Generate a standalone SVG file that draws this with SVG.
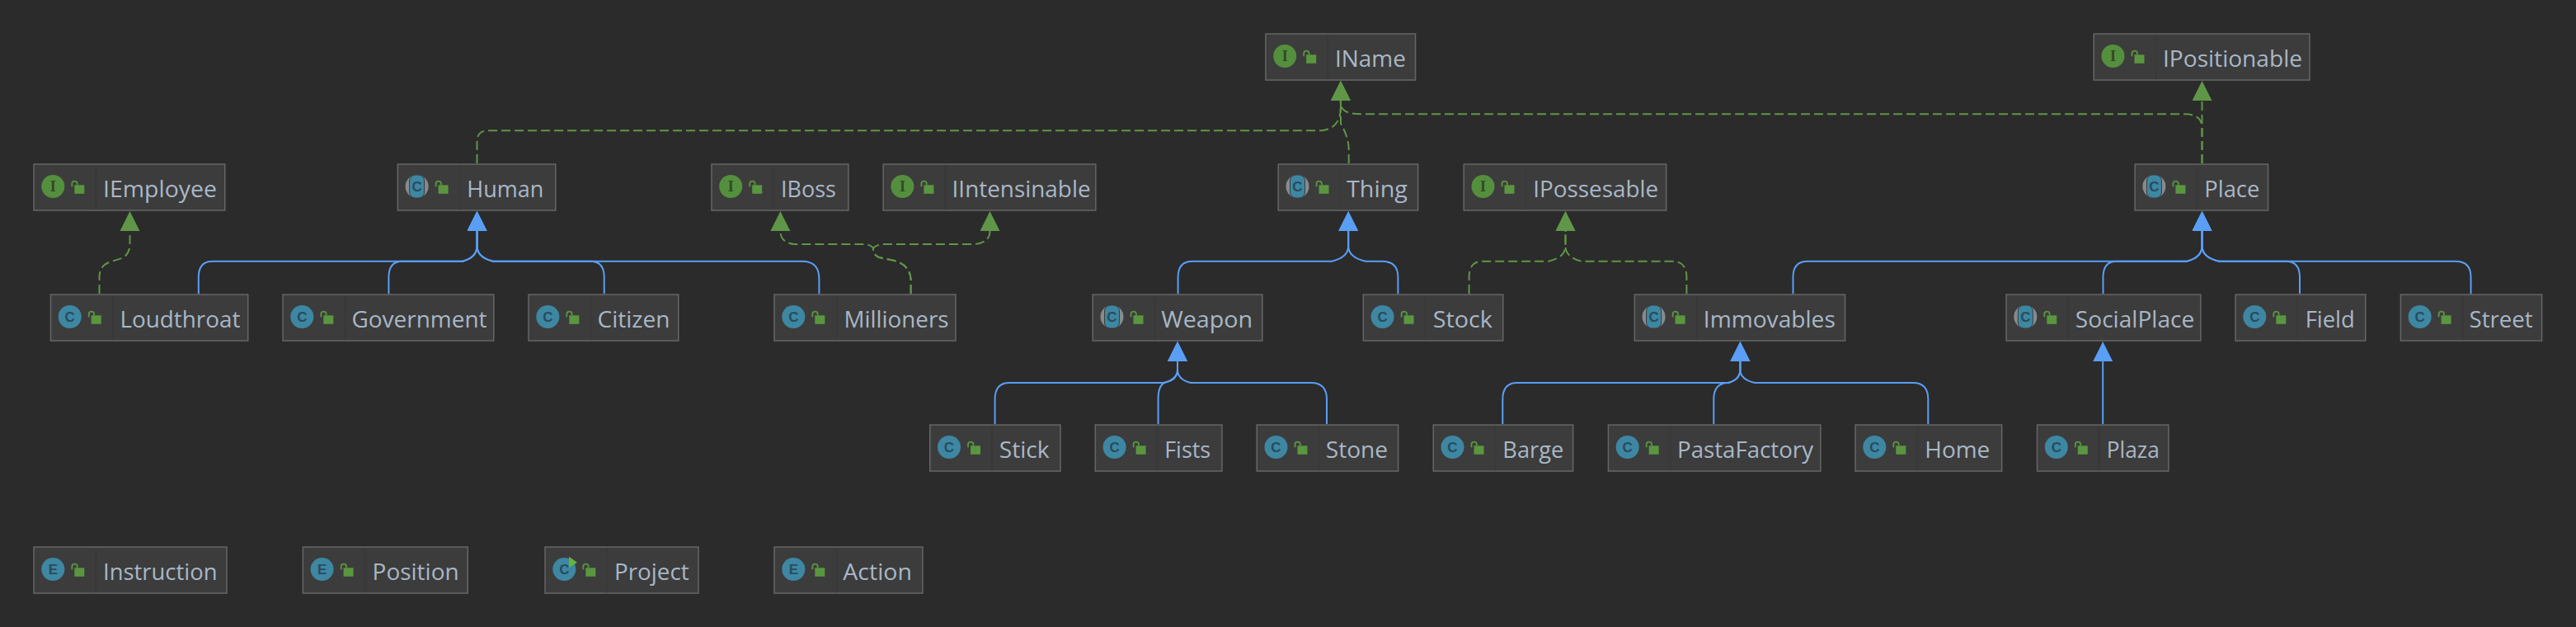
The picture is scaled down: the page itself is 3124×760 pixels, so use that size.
<svg xmlns="http://www.w3.org/2000/svg" xmlns:xlink="http://www.w3.org/1999/xlink" width="3124" height="760" viewBox="0 0 3124 760">
<style>
.box{fill:#3c3c3c;stroke:#666;stroke-width:1.5}
.div{stroke:#383838;stroke-width:1.5}
.lbl{font-family:"Open Sans","Noto Sans",sans-serif;font-size:28px;fill:#a9b7c6}
.ltr{font-family:"Liberation Sans",sans-serif;font-size:17px;font-weight:700;fill:#284b5c;text-anchor:middle}
.ltrI{font-family:"Liberation Serif",serif;font-size:18px;font-weight:700;fill:#2f4a26;text-anchor:middle}
.ext{fill:none;stroke:#5a9ef5;stroke-width:2;marker-end:url(#aE)}
.dep{fill:none;stroke:#5f9647;stroke-width:2;stroke-dasharray:11 5;marker-end:url(#aD)}
</style>
<defs>
<marker id="aE" markerUnits="userSpaceOnUse" markerWidth="26" markerHeight="26" refX="0" refY="12" orient="auto"><path d="M0 0L24 12L0 24Z" fill="#5a9ef5"/></marker>
<marker id="aD" markerUnits="userSpaceOnUse" markerWidth="26" markerHeight="26" refX="0" refY="12" orient="auto"><path d="M0 0L24 12L0 24Z" fill="#5f9647"/></marker>
<g id="lock"><path d="M47 28V24.5A3.2 3.2 0 0 1 53.4 24.5V26" fill="none" stroke="#5a963f" stroke-width="1.8"/><rect x="50" y="26" width="12" height="10.5" fill="#5a963f"/></g>
<g id="icI"><circle cx="24" cy="27.7" r="14" fill="#548f3e"/><text class="ltrI" x="24" y="33.7">I</text><use xlink:href="#lock"/></g>
<g id="icC"><circle cx="24" cy="27.7" r="14" fill="#3d87a3"/><text class="ltr" x="24" y="33.7">C</text><use xlink:href="#lock"/></g>
<g id="icE"><circle cx="24" cy="27.7" r="14" fill="#3d87a3"/><text class="ltr" x="24" y="33.7">E</text><use xlink:href="#lock"/></g>
<g id="icA"><circle cx="24" cy="27.7" r="14" fill="#878b8e"/><rect x="15" y="13.7" width="18" height="28" rx="7" fill="#3d87a3" stroke="#3c3c3c" stroke-width="1"/><text class="ltr" x="24" y="33.7">C</text><use xlink:href="#lock"/></g>
<g id="icR"><circle cx="24" cy="27.7" r="14" fill="#3d87a3"/><text class="ltr" x="24" y="33.7">C</text><path d="M29.7 12.5L39.7 19.5L29.7 26Z" fill="#62b53c"/><use xlink:href="#lock"/></g>
</defs>
<rect width="3124" height="760" fill="#2b2b2b"/>
<g id="connectors">
<path class="dep" d="M120.5 356V336Q120.5 321 135 317L148 313Q157.5 308 157.5 295V280"/>
<path class="ext" d="M240.8 356V336Q240.8 316.7 258 316.7H561Q578.5 312 578.5 298V280"/>
<path class="ext" d="M471.4 356V336Q471.4 316.7 488 316.7H561Q578.5 312 578.5 298V280"/>
<path class="ext" d="M732.7 356V336Q732.7 316.7 716 316.7H598Q578.5 312 578.5 298V280"/>
<path class="ext" d="M993.4 356V338Q993.4 316.7 973 316.7H598Q578.5 312 578.5 298V280"/>
<path class="dep" d="M578.5 198V172Q578.5 158.3 592 158.3H1603Q1625.7 155 1625.7 132V122"/>
<path class="dep" d="M1104.6 356V338Q1103 321 1085 316L1066 312Q1059 309 1059 302Q1059 298 1050 296H963Q946.4 294 946.4 280"/>
<path class="dep" d="M1104.6 356V338Q1103 321 1085 316L1066 312Q1059 309 1059 302Q1059 298 1070 296H1182Q1200.5 294 1200.5 280"/>
<path class="dep" d="M1635.7 198V180Q1635 165 1626 150V122"/>
<path class="dep" d="M2670.5 198V152Q2668 138.3 2650 138.3H1650Q1626 138.3 1626 125V122"/>
<path class="dep" d="M2670.5 198V122"/>
<path class="ext" d="M1428.6 356V336Q1428.6 316.7 1446 316.7H1615Q1635.2 312 1635.2 298V280"/>
<path class="ext" d="M1695.4 356V336Q1695.4 316.7 1676 316.7H1656Q1635.2 312 1635.2 298V280"/>
<path class="dep" d="M1781.6 356V336Q1781.6 316.7 1798 316.7H1878Q1898.5 312 1898.5 298V280"/>
<path class="dep" d="M2045.4 356V336Q2045.4 316.7 2028 316.7H1918Q1898.5 312 1898.5 298V280"/>
<path class="ext" d="M2174.5 356V336Q2174.5 316.7 2192 316.7H2652Q2670.5 312 2670.5 298V280"/>
<path class="ext" d="M2550.5 356V336Q2550.5 316.7 2567 316.7H2652Q2670.5 312 2670.5 298V280"/>
<path class="ext" d="M2789 356V336Q2789 316.7 2772 316.7H2691Q2670.5 312 2670.5 298V280"/>
<path class="ext" d="M2996.5 356V336Q2996.5 316.7 2978 316.7H2691Q2670.5 312 2670.5 298V280"/>
<path class="ext" d="M1206.6 514V484Q1206.6 464 1224 464H1411Q1428 460 1428 448V438"/>
<path class="ext" d="M1404.6 514V482Q1405 465 1415 463Q1428 460 1428 448V438"/>
<path class="ext" d="M1609 514V484Q1609 464 1590 464H1444Q1428 460 1428 448V438"/>
<path class="ext" d="M1822.3 514V484Q1822.3 464 1840 464H2096Q2110.4 460 2110.4 448V438"/>
<path class="ext" d="M2078.3 514V484Q2078.3 464 2096 464Q2110.4 460 2110.4 448V438"/>
<path class="ext" d="M2338.3 514V484Q2338.3 464 2320 464H2128Q2110.4 460 2110.4 448V438"/>
<path class="ext" d="M2550.2 514V438"/>
</g>
<g id="IName" transform="translate(1534.2 40.3)"><rect class="box" x=".75" y=".75" width="181.6" height="56"/><path class="div" d="M76 2V56"/><use xlink:href="#icI"/><text class="lbl" x="84.7" y="41" textLength="86" lengthAdjust="spacingAndGlyphs">IName</text></g>
<g id="IPositionable" transform="translate(2538.5 40.3)"><rect class="box" x=".75" y=".75" width="261.7" height="56"/><path class="div" d="M76 2V56"/><use xlink:href="#icI"/><text class="lbl" x="84.5" y="41" textLength="169" lengthAdjust="spacingAndGlyphs">IPositionable</text></g>
<g id="IEmployee" transform="translate(40.3 198.3)"><rect class="box" x=".75" y=".75" width="231.7" height="56"/><path class="div" d="M76 2V56"/><use xlink:href="#icI"/><text class="lbl" x="84.7" y="41" textLength="138" lengthAdjust="spacingAndGlyphs">IEmployee</text></g>
<g id="Human" transform="translate(481.6 198.3)"><rect class="box" x=".75" y=".75" width="191.4" height="56"/><path class="div" d="M76 2V56"/><use xlink:href="#icA"/><text class="lbl" x="84.7" y="41" textLength="93" lengthAdjust="spacingAndGlyphs">Human</text></g>
<g id="IBoss" transform="translate(862.2 198.3)"><rect class="box" x=".75" y=".75" width="165.9" height="56"/><path class="div" d="M76 2V56"/><use xlink:href="#icI"/><text class="lbl" x="84.8" y="41" textLength="67" lengthAdjust="spacingAndGlyphs">IBoss</text></g>
<g id="IIntensinable" transform="translate(1070.4 198.3)"><rect class="box" x=".75" y=".75" width="257.7" height="56"/><path class="div" d="M76 2V56"/><use xlink:href="#icI"/><text class="lbl" x="84.2" y="41" textLength="168" lengthAdjust="spacingAndGlyphs">IIntensinable</text></g>
<g id="Thing" transform="translate(1549.5 198.3)"><rect class="box" x=".75" y=".75" width="169.4" height="56"/><path class="div" d="M76 2V56"/><use xlink:href="#icA"/><text class="lbl" x="83.5" y="41" textLength="74" lengthAdjust="spacingAndGlyphs">Thing</text></g>
<g id="IPossesable" transform="translate(1774.5 198.3)"><rect class="box" x=".75" y=".75" width="245.4" height="56"/><path class="div" d="M76 2V56"/><use xlink:href="#icI"/><text class="lbl" x="84.7" y="41" textLength="152" lengthAdjust="spacingAndGlyphs">IPossesable</text></g>
<g id="Place" transform="translate(2588.4 198.3)"><rect class="box" x=".75" y=".75" width="161.4" height="56"/><path class="div" d="M76 2V56"/><use xlink:href="#icA"/><text class="lbl" x="84.9" y="41" textLength="67" lengthAdjust="spacingAndGlyphs">Place</text></g>
<g id="Loudthroat" transform="translate(60.7 356.3)"><rect class="box" x=".75" y=".75" width="239.3" height="56"/><path class="div" d="M76 2V56"/><use xlink:href="#icC"/><text class="lbl" x="84.7" y="41" textLength="146" lengthAdjust="spacingAndGlyphs">Loudthroat</text></g>
<g id="Government" transform="translate(342.3 356.3)"><rect class="box" x=".75" y=".75" width="255.7" height="56"/><path class="div" d="M76 2V56"/><use xlink:href="#icC"/><text class="lbl" x="84.2" y="41" textLength="164" lengthAdjust="spacingAndGlyphs">Government</text></g>
<g id="Citizen" transform="translate(640.3 356.3)"><rect class="box" x=".75" y=".75" width="181.7" height="56"/><path class="div" d="M76 2V56"/><use xlink:href="#icC"/><text class="lbl" x="84.2" y="41" textLength="88" lengthAdjust="spacingAndGlyphs">Citizen</text></g>
<g id="Millioners" transform="translate(938.3 356.3)"><rect class="box" x=".75" y=".75" width="219.9" height="56"/><path class="div" d="M76 2V56"/><use xlink:href="#icC"/><text class="lbl" x="85.2" y="41" textLength="127" lengthAdjust="spacingAndGlyphs">Millioners</text></g>
<g id="Weapon" transform="translate(1324.5 356.3)"><rect class="box" x=".75" y=".75" width="205.6" height="56"/><path class="div" d="M76 2V56"/><use xlink:href="#icA"/><text class="lbl" x="83.7" y="41" textLength="111" lengthAdjust="spacingAndGlyphs">Weapon</text></g>
<g id="Stock" transform="translate(1652.6 356.3)"><rect class="box" x=".75" y=".75" width="169.4" height="56"/><path class="div" d="M76 2V56"/><use xlink:href="#icC"/><text class="lbl" x="85.2" y="41" textLength="72" lengthAdjust="spacingAndGlyphs">Stock</text></g>
<g id="Immovables" transform="translate(1981.6 356.3)"><rect class="box" x=".75" y=".75" width="255.2" height="56"/><path class="div" d="M76 2V56"/><use xlink:href="#icA"/><text class="lbl" x="84.2" y="41" textLength="160" lengthAdjust="spacingAndGlyphs">Immovables</text></g>
<g id="SocialPlace" transform="translate(2432.3 356.3)"><rect class="box" x=".75" y=".75" width="235.8" height="56"/><path class="div" d="M76 2V56"/><use xlink:href="#icA"/><text class="lbl" x="84.5" y="41" textLength="144.5" lengthAdjust="spacingAndGlyphs">SocialPlace</text></g>
<g id="Field" transform="translate(2710.3 356.3)"><rect class="box" x=".75" y=".75" width="157.7" height="56"/><path class="div" d="M76 2V56"/><use xlink:href="#icC"/><text class="lbl" x="85.4" y="41" textLength="60" lengthAdjust="spacingAndGlyphs">Field</text></g>
<g id="Street" transform="translate(2910.6 356.3)"><rect class="box" x=".75" y=".75" width="171.2" height="56"/><path class="div" d="M76 2V56"/><use xlink:href="#icC"/><text class="lbl" x="84" y="41" textLength="77" lengthAdjust="spacingAndGlyphs">Street</text></g>
<g id="Stick" transform="translate(1127 514.3)"><rect class="box" x=".75" y=".75" width="158.2" height="56"/><path class="div" d="M76 2V56"/><use xlink:href="#icC"/><text class="lbl" x="84.7" y="41" textLength="61" lengthAdjust="spacingAndGlyphs">Stick</text></g>
<g id="Fists" transform="translate(1327.6 514.3)"><rect class="box" x=".75" y=".75" width="153.6" height="56"/><path class="div" d="M76 2V56"/><use xlink:href="#icC"/><text class="lbl" x="84.6" y="41" textLength="56" lengthAdjust="spacingAndGlyphs">Fists</text></g>
<g id="Stone" transform="translate(1523.5 514.3)"><rect class="box" x=".75" y=".75" width="171.4" height="56"/><path class="div" d="M76 2V56"/><use xlink:href="#icC"/><text class="lbl" x="84.2" y="41" textLength="75.5" lengthAdjust="spacingAndGlyphs">Stone</text></g>
<g id="Barge" transform="translate(1737.5 514.3)"><rect class="box" x=".75" y=".75" width="169.4" height="56"/><path class="div" d="M76 2V56"/><use xlink:href="#icC"/><text class="lbl" x="84.8" y="41" textLength="74" lengthAdjust="spacingAndGlyphs">Barge</text></g>
<g id="PastaFactory" transform="translate(1949.7 514.3)"><rect class="box" x=".75" y=".75" width="257.4" height="56"/><path class="div" d="M76 2V56"/><use xlink:href="#icC"/><text class="lbl" x="84.3" y="41" textLength="165" lengthAdjust="spacingAndGlyphs">PastaFactory</text></g>
<g id="Home" transform="translate(2249.3 514.3)"><rect class="box" x=".75" y=".75" width="177.6" height="56"/><path class="div" d="M76 2V56"/><use xlink:href="#icC"/><text class="lbl" x="85" y="41" textLength="79" lengthAdjust="spacingAndGlyphs">Home</text></g>
<g id="Plaza" transform="translate(2469.8 514.3)"><rect class="box" x=".75" y=".75" width="159.3" height="56"/><path class="div" d="M76 2V56"/><use xlink:href="#icC"/><text class="lbl" x="85" y="41" textLength="64" lengthAdjust="spacingAndGlyphs">Plaza</text></g>
<g id="Instruction" transform="translate(40.3 662.3)"><rect class="box" x=".75" y=".75" width="233.9" height="56"/><path class="div" d="M76 2V56"/><use xlink:href="#icE"/><text class="lbl" x="84.7" y="41" textLength="138.5" lengthAdjust="spacingAndGlyphs">Instruction</text></g>
<g id="Position" transform="translate(366.6 662.3)"><rect class="box" x=".75" y=".75" width="199.9" height="56"/><path class="div" d="M76 2V56"/><use xlink:href="#icE"/><text class="lbl" x="85" y="41" textLength="105" lengthAdjust="spacingAndGlyphs">Position</text></g>
<g id="Project" transform="translate(660.3 662.3)"><rect class="box" x=".75" y=".75" width="185.9" height="56"/><path class="div" d="M76 2V56"/><use xlink:href="#icR"/><text class="lbl" x="84.7" y="41" textLength="90.7" lengthAdjust="spacingAndGlyphs">Project</text></g>
<g id="Action" transform="translate(938.3 662.3)"><rect class="box" x=".75" y=".75" width="179.9" height="56"/><path class="div" d="M76 2V56"/><use xlink:href="#icE"/><text class="lbl" x="84" y="41" textLength="83.7" lengthAdjust="spacingAndGlyphs">Action</text></g>
</svg>
